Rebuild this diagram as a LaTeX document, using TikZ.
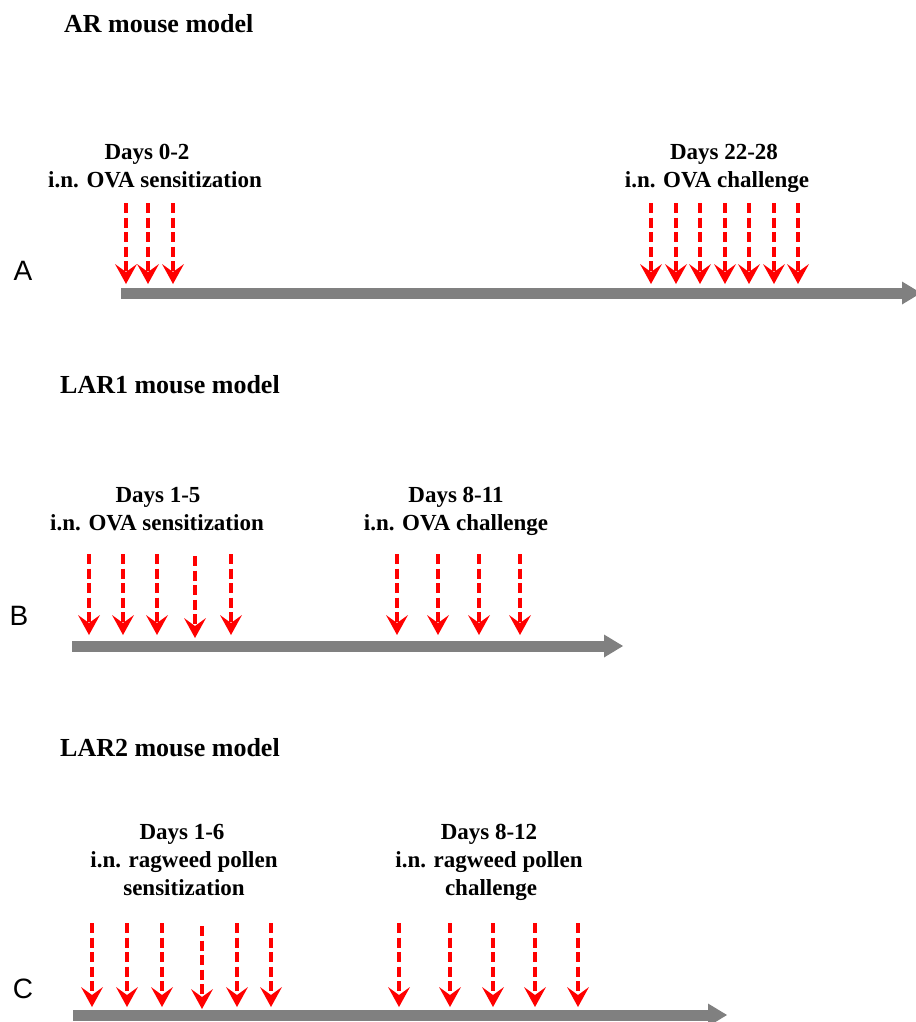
\documentclass[tikz,border=0pt]{standalone}
\usepackage{fontspec}
\setmainfont{Liberation Serif}
\newfontfamily\panelfont{Liberation Sans}
\usetikzlibrary{arrows.meta}
\definecolor{dosered}{RGB}{255,0,0}
\definecolor{axisgray}{RGB}{128,128,128}
\newcommand\headingfont{\fontsize{26}{30}\selectfont\bfseries}
\newcommand\infofont{\fontsize{23}{28}\selectfont\bfseries}
\tikzset{
  dose/.style={draw=dosered, line width=4pt, dash pattern=on 10pt off 4.5pt,
    -{Stealth[length=20pt,width=22pt,inset=8pt,fill=dosered,line width=0pt]}},
  timeline/.style={draw=axisgray, line width=11pt,
    -{Triangle[length=19pt,width=23pt,fill=axisgray,line width=0pt]}},
  title/.style={font=\headingfont, inner sep=0pt, anchor=base west},
  info/.style={font=\infofont, inner sep=0pt, anchor=base},
  panel/.style={font=\fontsize{28}{32}\selectfont\panelfont, inner sep=0pt, anchor=base}
}
\begin{document}
\begin{tikzpicture}[x=1pt,y=-1pt]
\useasboundingbox (0,0) rectangle (915,1022);

% ---------------- Panel A: AR model ----------------
\node[title] (tA) at (64,33) {AR mouse model};
\node[info] (dA1) at (147,159) {Days 0-2};
\node[info] (sA1) at (155,187) {i.n. OVA sensitization};
\node[info] (dA2) at (724,159) {Days 22-28};
\node[info] (sA2) at (717,187) {i.n. OVA challenge};
\node[panel] (pA) at (23,280) {A};
\coordinate (barA0) at (121,293);
\coordinate (barA1) at (921,293);
\draw[timeline] (barA0) -- (barA1);
\foreach \x [count=\i] in {126,148,173,651,676,700,725,749,774,798}{
  \coordinate (A-top\i) at (\x,203);
  \coordinate (A-tip\i) at (\x,284);
  \draw[dose] (A-top\i) -- (A-tip\i);
}

% ---------------- Panel B: LAR1 model ----------------
\node[title] (tB) at (60,393) {LAR1 mouse model};
\node[info] (dB1) at (158,502) {Days 1-5};
\node[info] (sB1) at (157,530) {i.n. OVA sensitization};
\node[info] (dB2) at (456,502) {Days 8-11};
\node[info] (sB2) at (456,530) {i.n. OVA challenge};
\node[panel] (pB) at (19,625) {B};
\coordinate (barB0) at (72,646);
\coordinate (barB1) at (623,646);
\draw[timeline] (barB0) -- (barB1);
\foreach \x/\t/\b [count=\i] in {89/554/635,123/554/635,157/554/635,195/556/638,231/554/635,
                               397/554/635,438/554/635,479/554/635,520/554/635}{
  \coordinate (B-top\i) at (\x,\t);
  \coordinate (B-tip\i) at (\x,\b);
  \draw[dose] (B-top\i) -- (B-tip\i);
}

% ---------------- Panel C: LAR2 model ----------------
\node[title] (tC) at (60,756) {LAR2 mouse model};
\node[info] (dC1) at (182,839) {Days 1-6};
\node[info] (rC1) at (184,867) {i.n. ragweed pollen};
\node[info] (sC1) at (184,895) {sensitization};
\node[info] (dC2) at (489,839) {Days 8-12};
\node[info] (rC2) at (489,867) {i.n. ragweed pollen};
\node[info] (sC2) at (491,895) {challenge};
\node[panel] (pC) at (23,998) {C};
\coordinate (barC0) at (73,1015);
\coordinate (barC1) at (727,1015);
\draw[timeline] (barC0) -- (barC1);
\foreach \x/\t/\b [count=\i] in {92/923/1007,127/923/1007,162/923/1007,202/926/1009,237/923/1007,271/923/1007,
                               399/923/1007,450/923/1007,493/923/1007,535/923/1007,578/923/1007}{
  \coordinate (C-top\i) at (\x,\t);
  \coordinate (C-tip\i) at (\x,\b);
  \draw[dose] (C-top\i) -- (C-tip\i);
}
\end{tikzpicture}
\end{document}
